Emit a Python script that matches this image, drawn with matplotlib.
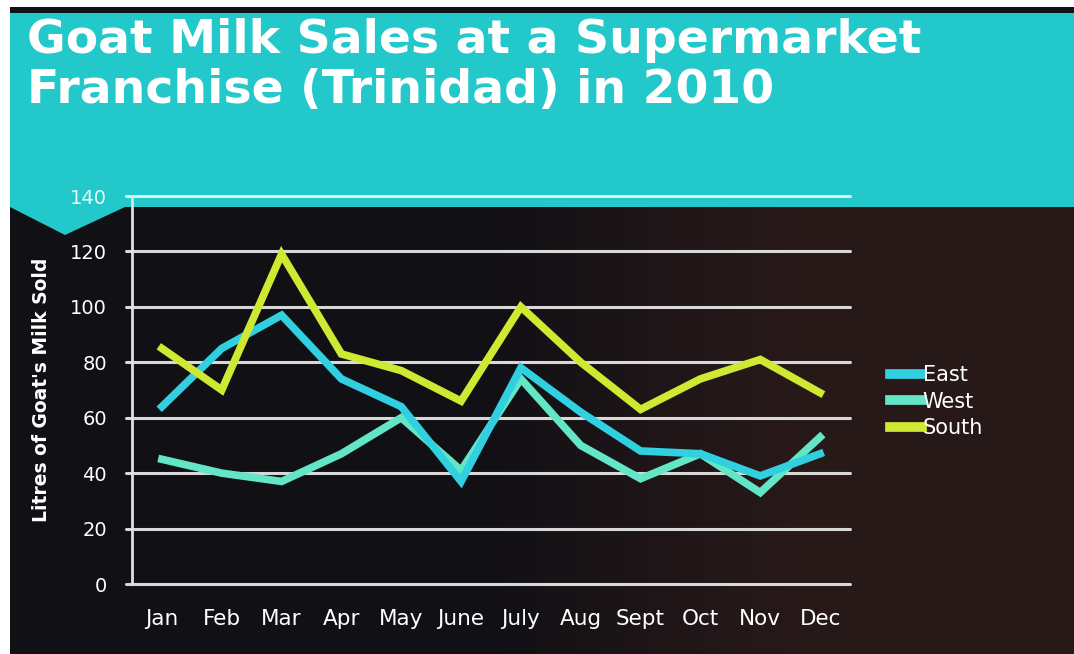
import numpy as np
import matplotlib.pyplot as plt
from matplotlib.patches import Polygon, Rectangle

months = ['Jan', 'Feb', 'Mar', 'Apr', 'May', 'June', 'July', 'Aug', 'Sept', 'Oct', 'Nov', 'Dec']
east = [64, 85, 97, 74, 64, 37, 78, 62, 48, 47, 39, 47]
west = [45, 40, 37, 47, 60, 41, 74, 50, 38, 47, 33, 53]
south = [85, 70, 119, 83, 77, 66, 100, 80, 63, 74, 81, 69]

W, H = 1074, 654
fig = plt.figure(figsize=(W / 100, H / 100), dpi=100)
fig.patch.set_facecolor('white')

# background: dark slide body with a slightly brown right side
bg = fig.add_axes([10 / W, 0, 1 - 10 / W, 1 - 8 / H], zorder=-2)
bg.set_axis_off()
grad = np.linspace(0, 1, 256)
ramp = np.clip((grad - 0.45) / 0.3, 0, 1)
c1 = np.array([0.07, 0.065, 0.085])
c2 = np.array([0.16, 0.10, 0.10])
img = c1[None, :] * (1 - ramp[:, None]) + c2[None, :] * ramp[:, None]
bg.imshow(img[None, :, :], aspect='auto', extent=[0, 1, 0, 1])
bg.set_xlim(0, 1)
bg.set_ylim(0, 1)

def px(x, y):
    return (x / W, 1 - y / H)

# teal header band with the notch on the left
teal = '#22c8ca'
band = [px(10, 13), px(1074, 13), px(1074, 207), px(125, 207), px(65, 235), px(10, 207)]
fig.patches.append(Polygon(band, closed=True, transform=fig.transFigure,
                           facecolor=teal, edgecolor='none', zorder=-1))
fig.patches.append(Rectangle(px(10, 13), 1 - 10 / W, 6 / H, transform=fig.transFigure,
                             facecolor='#101418', edgecolor='none', zorder=-1))

fig.text(27 / W, 1 - 53 / H, 'Goat Milk Sales at a Supermarket', color='white',
         fontsize=34, fontweight='bold', family='DejaVu Sans', va='baseline')
fig.text(27 / W, 1 - 103 / H, 'Franchise (Trinidad) in 2010', color='white',
         fontsize=34, fontweight='bold', family='DejaVu Sans', va='baseline')

ax = fig.add_axes([132 / W, (H - 584) / H, 718 / W, 388 / H], zorder=1)
ax.set_facecolor('none')
x = np.arange(len(months))

ax.set_xlim(-0.5, len(months) - 0.5)
ax.set_ylim(0, 140)
ax.set_yticks(np.arange(0, 141, 20))
ax.set_xticks(x)
ax.set_xticklabels(months)

for v in np.arange(0, 141, 20):
    col = '#d8f4f4' if v == 140 else '#d8d8d8'
    ax.plot([-0.6, len(months) - 0.5], [v, v], color=col, lw=2.2, clip_on=False,
            zorder=1, solid_capstyle='round')
ax.plot([-0.5, -0.5], [0, 140], color='#e0e0e0', lw=2, clip_on=False, zorder=1)

ax.plot(x, west, color='#62e6c6', lw=5.5, label='West', zorder=3, solid_joinstyle='miter')
ax.plot(x, east, color='#30d0e0', lw=5.5, label='East', zorder=4, solid_joinstyle='miter')
ax.plot(x, south, color='#cfe832', lw=5.5, label='South', zorder=5, solid_joinstyle='miter')

for s in ax.spines.values():
    s.set_visible(False)
ax.tick_params(axis='both', length=0, colors='white')
ax.tick_params(axis='y', pad=18, labelsize=14)
ax.tick_params(axis='x', pad=18, labelsize=15.5)
ax.get_yticklabels()[-1].set_color('#e8fafa')

ax.set_ylabel("Litres of Goat's Milk Sold", color='white', fontsize=13.5,
              fontweight='bold', labelpad=14)

handles, labels = ax.get_legend_handles_labels()
order = [1, 0, 2]
leg = ax.legend([handles[i] for i in order], [labels[i] for i in order],
                loc='center left', bbox_to_anchor=(1.03, 0.47), frameon=False,
                handlelength=1.5, handletextpad=0.05, labelspacing=0.3,
                fontsize=15, labelcolor='white')
for h in leg.get_lines():
    h.set_linewidth(7)

fig.savefig('out.png', dpi=100, facecolor=fig.get_facecolor())
